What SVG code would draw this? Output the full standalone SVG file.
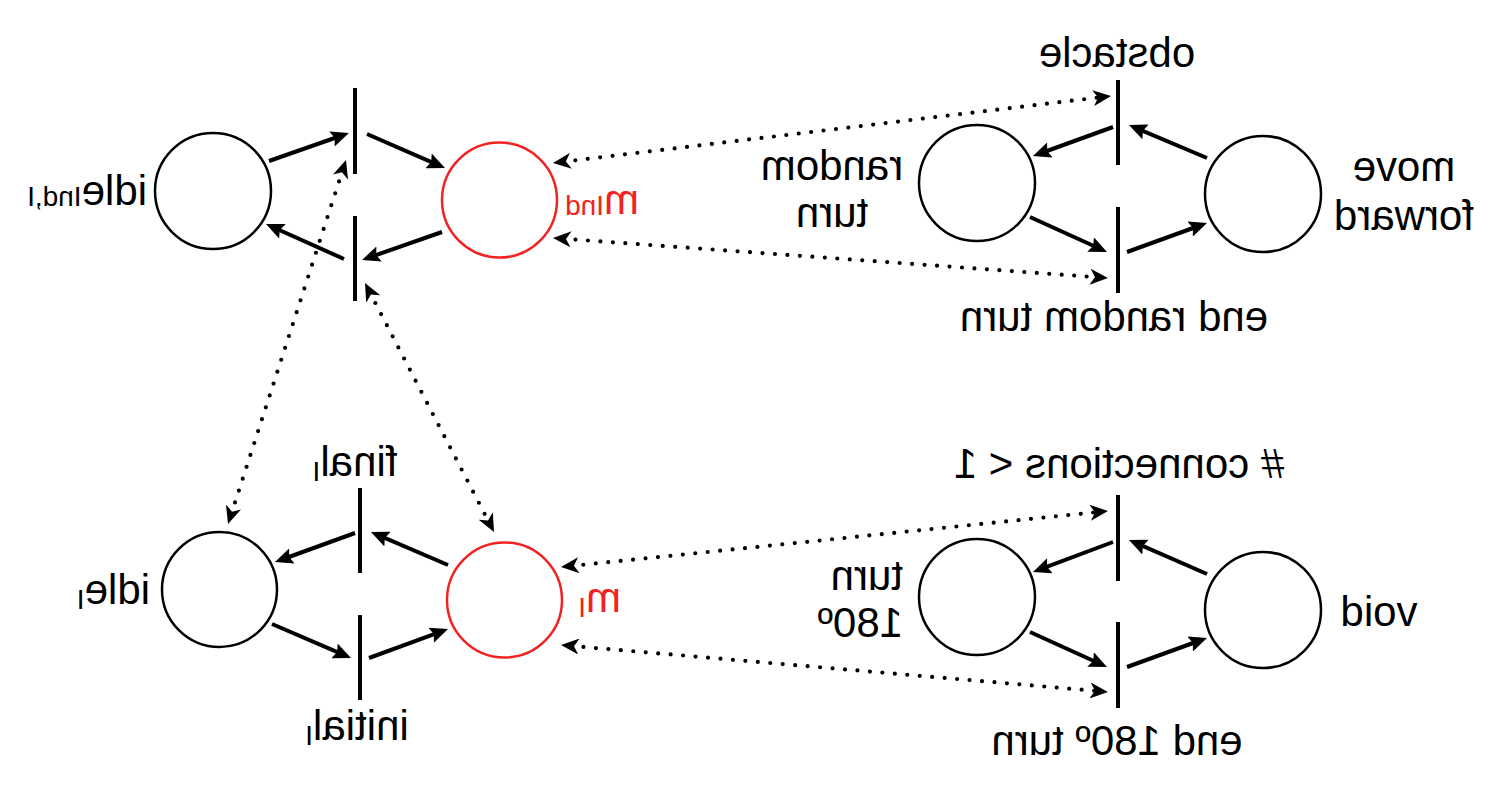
<svg xmlns="http://www.w3.org/2000/svg" width="1502" height="790" viewBox="0 0 1502 790">
<defs>
<style>
.place{fill:none;stroke:#000;stroke-width:2.5}
.red{stroke:#f22222}
.bar{stroke:#000;stroke-width:4;fill:none}
.arc{stroke:#000;stroke-width:4;fill:none;marker-end:url(#ah)}
.dot{stroke:#000;stroke-width:4.2;fill:none;stroke-dasharray:0 12.5;stroke-linecap:round;marker-start:url(#dh);marker-end:url(#dh)}
text{font-family:"Liberation Sans",Arial,Helvetica,sans-serif;font-size:42px;fill:#000}
.lr{fill:#f22222}
.sub{font-size:28px}
</style>
<marker id="ah" markerUnits="userSpaceOnUse" viewBox="0 0 18 16" refX="12" refY="8" markerWidth="18" markerHeight="16" orient="auto">
<path d="M0,0 L18,8 L0,16 L3,8 z" fill="#000"/>
</marker>
<marker id="dh" markerUnits="userSpaceOnUse" viewBox="0 0 18 16" refX="8" refY="8" markerWidth="18" markerHeight="16" orient="auto-start-reverse">
<path d="M0,0 L18,8 L0,16 L5,8 z" fill="#000"/>
</marker>
</defs>

<g id="connectors">
<line class="arc" x1="269" y1="161" x2="343.3" y2="135.0"/>
<line class="arc" x1="367" y1="134" x2="439.5" y2="165.6"/>
<line class="arc" x1="442" y1="232" x2="367.7" y2="258.0"/>
<line class="arc" x1="344" y1="259" x2="271.5" y2="226.5"/>

<line class="arc" x1="1207" y1="158" x2="1134.5" y2="127.3"/>
<line class="arc" x1="1113" y1="127" x2="1038.6" y2="154.0"/>
<line class="arc" x1="1030" y1="217" x2="1101.5" y2="249.5"/>
<line class="arc" x1="1127" y1="252" x2="1201.4" y2="225.0"/>

<line class="arc" x1="1207" y1="574" x2="1134.5" y2="542.4"/>
<line class="arc" x1="1113" y1="542" x2="1038.6" y2="569.9"/>
<line class="arc" x1="1030" y1="632" x2="1101.5" y2="664.5"/>
<line class="arc" x1="1127" y1="667" x2="1201.4" y2="640.0"/>

<line class="arc" x1="448" y1="565" x2="376.5" y2="534.4"/>
<line class="arc" x1="355" y1="533" x2="280.6" y2="560.0"/>
<line class="arc" x1="272" y1="624" x2="345.5" y2="655.6"/>
<line class="arc" x1="369" y1="658" x2="442.4" y2="631.1"/>

<line class="dot" x1="562.9" y1="161.8" x2="1101.1" y2="97.2"/>
<line class="dot" x1="563.0" y1="238.7" x2="1098.0" y2="277.3"/>
<line class="dot" x1="570.9" y1="566.0" x2="1098.1" y2="512.0"/>
<line class="dot" x1="571.0" y1="645.9" x2="1098.0" y2="691.1"/>
<line class="dot" x1="342.9" y1="169.5" x2="231.1" y2="514.5"/>
<line class="dot" x1="369.6" y1="291.9" x2="489.4" y2="523.1"/>
</g>

<g id="idle-ind">
<circle class="place" cx="213" cy="191" r="58"/>
<text transform="translate(147,205) scale(-1,1)" text-anchor="start">idle<tspan class="sub" dy="1">Ind,I</tspan></text>
</g>
<g id="m-ind">
<circle class="place red" cx="499.5" cy="200" r="57.5"/>
<text class="lr" transform="translate(639,214) scale(-1,1)" text-anchor="start">m<tspan class="sub" dy="1">Ind</tspan></text>
</g>
<g id="t-top-left-1"><line class="bar" x1="355" y1="88" x2="355" y2="174"/></g>
<g id="t-top-left-2"><line class="bar" x1="355" y1="216" x2="355" y2="301"/></g>

<g id="random-turn">
<circle class="place" cx="977" cy="183" r="58"/>
<text transform="translate(832,180) scale(-1,1)" text-anchor="middle">random<tspan x="0" dy="47">turn</tspan></text>
</g>
<g id="move-forward">
<circle class="place" cx="1263" cy="194" r="58"/>
<text transform="translate(1404,181) scale(-1,1)" text-anchor="middle">move<tspan x="0" dy="49">forward</tspan></text>
</g>
<g id="obstacle">
<line class="bar" x1="1118" y1="80" x2="1118" y2="165"/>
<text transform="translate(1117,67) scale(-1,1)" text-anchor="middle">obstacle</text>
</g>
<g id="end-random-turn">
<line class="bar" x1="1118" y1="207" x2="1118" y2="293"/>
<text transform="translate(1114,331) scale(-1,1)" text-anchor="middle">end random turn</text>
</g>

<g id="idle-i">
<circle class="place" cx="219.5" cy="589.5" r="57.5"/>
<text transform="translate(150,604) scale(-1,1)" text-anchor="start">idle<tspan class="sub" dy="5">I</tspan></text>
</g>
<g id="m-i">
<circle class="place red" cx="504.5" cy="600" r="57.5"/>
<text class="lr" transform="translate(621,612) scale(-1,1)" text-anchor="start">m<tspan class="sub" dy="5">I</tspan></text>
</g>
<g id="final">
<line class="bar" x1="360" y1="488" x2="360" y2="573"/>
<text transform="translate(355,476) scale(-1,1)" text-anchor="middle">final<tspan class="sub" dy="5">I</tspan></text>
</g>
<g id="initial">
<line class="bar" x1="360" y1="615" x2="360" y2="700"/>
<text transform="translate(357,740) scale(-1,1)" text-anchor="middle">initial<tspan class="sub" dy="5">I</tspan></text>
</g>

<g id="turn-180">
<circle class="place" cx="977" cy="597" r="58"/>
<text transform="translate(903,590) scale(-1,1)" text-anchor="start">turn<tspan x="0" dy="47">180º</tspan></text>
</g>
<g id="void">
<circle class="place" cx="1263" cy="610" r="58"/>
<text transform="translate(1379,626) scale(-1,1)" text-anchor="middle">void</text>
</g>
<g id="connections">
<line class="bar" x1="1118" y1="495" x2="1118" y2="581"/>
<text transform="translate(1119,478) scale(-1,1)" text-anchor="middle"># connections &lt; 1</text>
</g>
<g id="end-180-turn">
<line class="bar" x1="1118" y1="622" x2="1118" y2="708"/>
<text transform="translate(1117,755) scale(-1,1)" text-anchor="middle">end 180º turn</text>
</g>
</svg>
